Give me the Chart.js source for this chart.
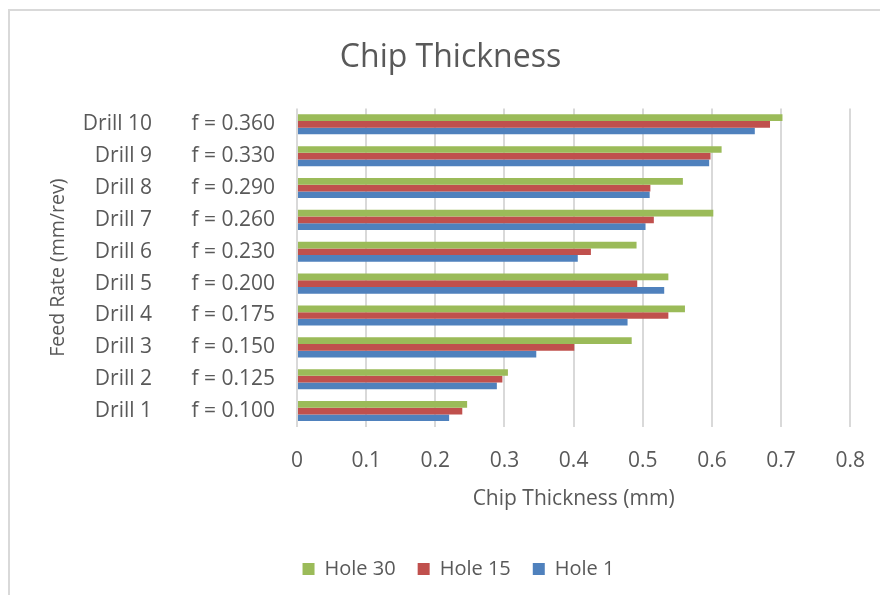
<!DOCTYPE html>
<html>
<head>
<meta charset="utf-8">
<script src="https://cdn.jsdelivr.net/npm/chart.js@4/dist/chart.umd.min.js"></script>
<style>
  html, body { margin: 0; padding: 0; background: #fff; overflow: hidden; }
  #frame {
    position: absolute; left: 8px; top: 9px; width: 900px; height: 620px;
    border: 2px solid #d9d9d9; box-sizing: border-box;
  }
  #wrap { position: absolute; left: 0; top: 0; width: 880px; height: 595px; }
</style>
</head>
<body>
<div id="frame"></div>
<div id="wrap"><canvas id="chart"></canvas></div>
<script>
// Drills listed bottom-to-top (Drill 1 is drawn lowest)
const drills = ['Drill 1', 'Drill 2', 'Drill 3', 'Drill 4', 'Drill 5',
                'Drill 6', 'Drill 7', 'Drill 8', 'Drill 9', 'Drill 10'];
const feedRates = ['f = 0.100', 'f = 0.125', 'f = 0.150', 'f = 0.175', 'f = 0.200',
                   'f = 0.230', 'f = 0.260', 'f = 0.290', 'f = 0.330', 'f = 0.360'];

// Chip thickness (mm) per drill
const hole30 = [0.246, 0.305, 0.484, 0.561, 0.537, 0.491, 0.602, 0.558, 0.614, 0.702];
const hole15 = [0.239, 0.297, 0.401, 0.537, 0.492, 0.425, 0.516, 0.511, 0.598, 0.684];
const hole1  = [0.220, 0.289, 0.346, 0.478, 0.531, 0.406, 0.504, 0.510, 0.596, 0.662];

const FONT = '"Open Sans", "Liberation Sans", sans-serif';
const TEXT = '#595959';
const GRID = '#d9d9d9';

// Nudge the legend row a little to the right of the plot centre
const legendShift = {
  id: 'legendShift',
  afterLayout(chart) {
    const lg = chart.legend;
    if (lg) { lg.left += 8; lg.right += 8; }
  }
};

new Chart(document.getElementById('chart'), {
  type: 'bar',
  plugins: [legendShift],
  data: {
    labels: feedRates,
    datasets: [
      { label: 'Hole 30', data: hole30, backgroundColor: '#9BBB59' },
      { label: 'Hole 15', data: hole15, backgroundColor: '#C0504D' },
      { label: 'Hole 1',  data: hole1,  backgroundColor: '#4F81BD' }
    ]
  },
  options: {
    indexAxis: 'y',
    responsive: true,
    maintainAspectRatio: false,
    animation: false,
    barPercentage: 1.0,
    categoryPercentage: 0.63,
    layout: { padding: { left: 45, right: 24, top: 0, bottom: 6 } },
    plugins: {
      title: {
        display: true,
        text: 'Chip Thickness',
        color: TEXT,
        font: { family: FONT, size: 32, weight: 'normal' },
        padding: { top: 39, bottom: 31 }
      },
      legend: {
        position: 'bottom',
        labels: {
          color: TEXT,
          font: { family: FONT, size: 20 },
          boxWidth: 12, boxHeight: 12,
          padding: 22
        }
      },
      tooltip: { enabled: false }
    },
    scales: {
      x: {
        min: 0, max: 0.8,
        afterFit: (s) => { s.height = 110; },
        ticks: { stepSize: 0.1, color: TEXT, font: { family: FONT, size: 21 }, padding: 15 },
        grid: { color: GRID, lineWidth: 2, drawTicks: true, tickLength: 6, tickColor: 'rgba(0,0,0,0)' },
        border: { display: false },
        title: {
          display: true, text: 'Chip Thickness (mm)', color: TEXT,
          font: { family: FONT, size: 21 }, padding: { top: 0, bottom: 25 }
        }
      },
      y: {
        reverse: true,
        weight: 0,
        afterFit: (s) => { s.width = 129; },
        ticks: { color: TEXT, font: { family: FONT, size: 21 }, padding: 22 },
        grid: { display: false, drawTicks: false },
        border: { display: false }
      },
      y2: {
        type: 'category',
        position: 'left',
        labels: drills,
        reverse: true,
        offset: true,
        weight: 1,
        afterFit: (s) => { s.width = 123; },
        ticks: { color: TEXT, font: { family: FONT, size: 21 }, padding: 16 },
        grid: { display: false, drawTicks: false },
        border: { display: false },
        title: {
          display: true, text: 'Feed Rate (mm/rev)', color: TEXT,
          font: { family: FONT, size: 19.5 }, padding: { top: 2, bottom: 0 }
        }
      }
    }
  }
});
</script>
</body>
</html>
